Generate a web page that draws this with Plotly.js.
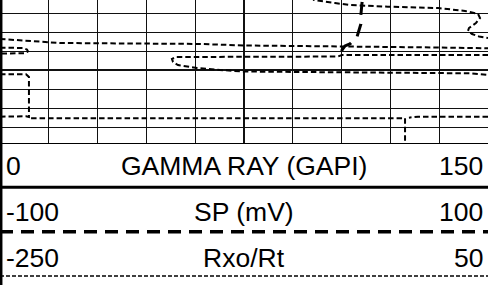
<!DOCTYPE html>
<html>
<head>
<meta charset="utf-8">
<script src="https://cdn.plot.ly/plotly-3.0.1.min.js"></script>
<style>html,body{margin:0;padding:0;background:#fff;}#chart{width:488px;height:285px;}</style>
</head>
<body>
<div id="chart"></div>
<script>
// ---- header (curve legend) ----
const curveNames = ['GAMMA RAY (GAPI)', 'SP (mV)', 'Rxo/Rt'];
const scaleMin = [0, -100, -250];
const scaleMax = [150, 100, 50];

// ---- SP curve (mV) vs depth ----
const spDepth = [4990.53, 4992.84, 4994.20, 4995.15, 4996.51, 4997.24, 4997.45, 4997.87, 4998.71];
const spValue = [48.4, 48.4, 47.9, 47.9, 46.3, 43.4, 41.4, 40.2, 39.7];

// ---- Rxo/Rt curve vs depth (wrapped: null = off-scale wrap) ----
const rxoDepth = [
  4991.58, 4992.63, 4992.94, 4993.15, 4993.33, 4993.47, 4993.78, 4994.10, 4994.52, 4995.04, 4995.57, 4995.88, 4996.20, 4996.46, 4996.62, null,
  4996.72, 4996.83, 4997.00, 4997.14, 4997.17, 4997.24, 4997.40, 4997.45, 4997.53, 4997.61, 4997.70, null,
  4997.63, 4997.66, 4997.82, 4998.03, 4998.22, 4998.24, null,
  4998.40, 4998.40, 4998.40, 4998.56, 4998.58, 4998.61, 4998.82, 4999.13, 4999.45, 4999.76, 4999.97, 5000.13, 5000.18, 5000.25, 5000.32, 5000.50, null,
  5000.42, 5000.42, 5000.71, 5004.90, 5004.83, 5004.87, null,
  5005.04, 5005.04, 5005.04, 5009.41, null,
  5004.87, 5004.87, 5004.97
];
const rxoValue = [
  -62.5, -57.0, -44.1, -35.5, -11.5, 19.3, 35.9, 43.9, 45.1, 42.6, 38.3, 37.7, 40.2, 44.5, 50.0, null,
  -250.0, -237.7, -225.4, -213.1, -188.5, -127.1, -100.0, -65.6, -11.5, 19.3, 50.0, null,
  -250.0, -235.9, -233.4, -232.8, -234.6, -250.0, null,
  50.0, -4.1, -39.8, -42.2, -96.3, -141.8, -144.3, -143.6, -140.6, -128.9, -114.8, -100.0, -65.6, -11.5, 38.9, 50.0, null,
  -250.0, -234.0, -232.2, -232.2, -234.0, -250.0, null,
  -230.9, -127.1, -1.0, -1.0, null,
  50.0, 7.0, 1.4
];

const W = 488, H = 285;
const trackBottomPx = 143;
const py = p => 1 - p / H;   // pixel row -> paper y
const px = p => p / W;       // pixel col -> paper x

const traces = [
  { x: rxoValue, y: rxoDepth, xaxis: 'x', yaxis: 'y', mode: 'lines', connectgaps: false,
    line: { color: '#000', width: 2, dash: '5.5px,3px' }, hoverinfo: 'skip' },
  { x: spValue, y: spDepth, xaxis: 'x2', yaxis: 'y', mode: 'lines', connectgaps: false,
    line: { color: '#000', width: 3, dash: '13px,9px' }, hoverinfo: 'skip' }
];

const font = { family: 'Liberation Sans, Arial, sans-serif', size: 26.5, color: '#000' };
const rowY = [165.5, 211.7, 257.5];
const annotations = [];
curveNames.forEach((name, i) => {
  annotations.push({ xref: 'paper', yref: 'paper', x: px(4.5), y: py(rowY[i]), xanchor: 'left', yanchor: 'middle',
    text: String(scaleMin[i]), showarrow: false, font: font, borderpad: 0 });
  annotations.push({ xref: 'paper', yref: 'paper', x: px(244), y: py(rowY[i]), xanchor: 'center', yanchor: 'middle',
    text: name, showarrow: false, font: font, borderpad: 0 });
  annotations.push({ xref: 'paper', yref: 'paper', x: px(483.5), y: py(rowY[i]), xanchor: 'right', yanchor: 'middle',
    text: String(scaleMax[i]), showarrow: false, font: font, borderpad: 0 });
});

const lineStyles = [
  { y: 187.3, width: 3, dash: 'solid' },
  { y: 231.7, width: 3.5, dash: '13px,8px' },
  { y: 276.0, width: 1.5, dash: '4px,2px' }
];
const shapes = lineStyles.map(s => ({ type: 'line', xref: 'paper', yref: 'paper', x0: 0, x1: 1, y0: py(s.y), y1: py(s.y),
  line: { color: '#000', width: s.width, dash: s.dash } }));
shapes.push({ type: 'line', xref: 'paper', yref: 'paper', x0: px(1.2), x1: px(1.2), y0: 0, y1: 1,
  line: { color: '#000', width: 2.5 } });

const gridColor = '#111';
const layout = {
  width: W, height: H,
  margin: { l: 0, r: 0, t: 0, b: 0, pad: 0 },
  paper_bgcolor: '#fff', plot_bgcolor: '#fff',
  showlegend: false,
  xaxis: { domain: [0, 1], range: [-250, 50], tick0: -250, dtick: 150, showgrid: true, gridcolor: gridColor, gridwidth: 2,
    minor: { tick0: -250, dtick: 30, showgrid: true, gridcolor: gridColor, gridwidth: 1, ticks: '' },
    showticklabels: false, ticks: '', zeroline: false, showline: true, linecolor: '#000', linewidth: 1, fixedrange: true },
  xaxis2: { overlaying: 'x', anchor: 'y', range: [-100, 100], showgrid: false, zeroline: false, showticklabels: false,
    ticks: '', showline: false, fixedrange: true },
  yaxis: { domain: [1 - trackBottomPx / H, 1], range: [5007.63, 4992.63], tick0: 5000, dtick: 10, showgrid: true,
    gridcolor: gridColor, gridwidth: 2,
    minor: { dtick: 2, showgrid: true, gridcolor: gridColor, gridwidth: 1, ticks: '' },
    showticklabels: false, ticks: '', zeroline: false, showline: false, fixedrange: true },
  shapes: shapes,
  annotations: annotations
};

Plotly.newPlot('chart', traces, layout, { staticPlot: true, displayModeBar: false });
</script>
</body>
</html>
